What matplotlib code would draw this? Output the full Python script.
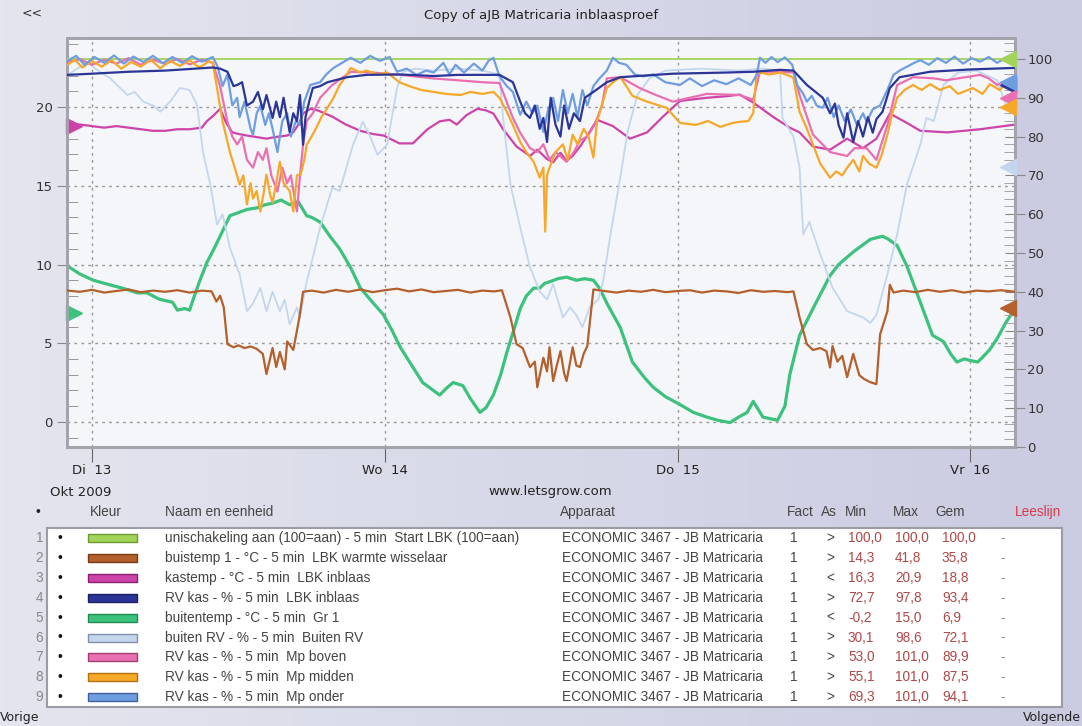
import numpy as np
import matplotlib.pyplot as plt
from matplotlib.patches import Rectangle
from matplotlib.colors import LinearSegmentedColormap
from matplotlib.transforms import blended_transform_factory

W, H = 1082, 726

# x axis: hours after Di 13 okt 2009 00:00
day_ticks = [0, 24, 48, 72]
day_labels = ["Di  13", "Wo  14", "Do  15", "Vr  16"]

# 1 unischakeling (right axis)
t_start = [-2.1, 75.7]
v_start = [100.0, 100.0]

# 2 buistemp 1 (right axis)
t_buis = [-2.0, -1.0, 0.0, 1.0, 2.0, 3.0, 4.0, 5.0, 6.0, 7.0, 8.0, 9.0, 9.8, 10.2, 10.5, 10.8,
          11.1, 11.6, 12.0, 12.5, 13.0, 13.5, 14.0, 14.3, 14.8, 15.1, 15.4, 15.8, 16.0, 16.5,
          17.0, 17.3, 18, 19, 20, 21, 22, 23, 24, 25, 26, 27, 28, 29, 30, 31, 32, 33, 33.6,
          34.3, 34.8, 35.3, 35.9, 36.3, 36.5, 37.0, 37.3, 37.5, 37.8, 38.1, 38.4, 38.7, 38.9,
          39.2, 39.4, 39.7, 40.0, 40.3, 40.6, 41.1, 42, 43, 44, 45, 46, 47, 48, 49, 50, 51, 52,
          53, 54, 55, 56, 57, 57.5, 58.0, 58.6, 59.1, 59.7, 60.2, 60.5, 60.7, 61.1, 61.5, 61.9,
          62.4, 62.9, 63.3, 63.8, 64.3, 64.6, 65.2, 65.4, 65.7, 66.5, 67.5, 68.5, 69.5, 70.5,
          71.5, 72.5, 73.5, 74.5, 75.7]
v_buis = [40.3, 40.0, 40.5, 39.8, 40.2, 40.6, 39.9, 40.3, 40.0, 40.4, 39.8, 40.3, 40.1, 37.5, 39.0,
          36.0, 26.5, 25.7, 26.2, 25.5, 25.9, 25.3, 24.0, 18.8, 25.5, 20.6, 24.5, 20.0, 27.2, 25.0,
          33.4, 40.0, 40.3, 39.8, 40.5, 40.0, 40.6, 39.9, 40.4, 40.8, 40.1, 40.6, 39.9, 40.2, 40.5,
          39.8, 40.3, 40.1, 40.4, 33.4, 26.5, 25.5, 20.6, 22.0, 15.4, 23.0, 19.5, 25.7, 17.0, 21.0,
          24.7, 19.0, 17.0, 22.0, 25.7, 21.0, 20.6, 24.0, 26.0, 40.6, 40.2, 39.8, 40.3, 40.0, 40.5,
          39.9, 40.2, 40.4, 39.8, 40.3, 40.1, 39.7, 40.4, 40.0, 40.2, 39.9, 40.1, 33.4, 26.5, 25.0,
          25.5, 24.7, 20.5, 26.0, 22.0, 23.5, 18.0, 24.0, 18.5, 17.5, 16.7, 16.2, 29.0, 35.0, 41.8,
          39.8, 40.3, 39.9, 40.5, 40.0, 40.4, 39.8, 40.3, 40.1, 40.4, 40.0]

# 3 kastemp (left axis)
t_kas = [-2.0, -1.0, 0.0, 1.0, 2.0, 3.0, 4.0, 5.0, 6.0, 7.0, 8.0, 9.0, 9.4, 10.0, 10.5, 11.0,
         11.5, 12.0, 12.7, 13.5, 14.3, 15.0, 16.0, 16.5, 17.0, 17.3, 17.9, 18.5, 19.7, 20.8,
         22.0, 23.0, 23.9, 25.2, 26.3, 27.5, 28.5, 29.3, 29.9, 30.7, 31.6, 32.3, 32.9, 33.7,
         34.8, 35.9, 36.5, 37.3, 37.8, 38.4, 38.9, 39.4, 40.0, 40.6, 41.4, 42.7, 44.1, 45.5,
         46.8, 48.2, 50.4, 52.0, 53.1, 54.2, 55.8, 56.4, 57.2, 58.0, 59.1, 60.5, 61.9, 63.2,
         64.3, 65.4, 66.8, 67.9, 70.1, 72.8, 75.7]
v_kas = [18.8, 18.9, 18.8, 18.7, 18.8, 18.7, 18.6, 18.5, 18.5, 18.6, 18.6, 18.7, 19.1, 19.5, 19.9,
         19.0, 18.4, 18.3, 18.2, 18.1, 18.0, 18.1, 18.2, 18.4, 19.0, 19.6, 19.9, 19.8, 19.4, 18.9,
         18.5, 18.3, 18.2, 17.7, 17.7, 18.6, 19.1, 19.2, 18.9, 19.5, 19.9, 19.8, 19.6, 18.6, 17.5,
         16.9, 17.3, 16.7, 16.5, 17.1, 16.6, 16.9, 17.5, 18.2, 19.2, 18.8, 18.0, 18.4, 19.4, 20.4,
         20.6, 20.7, 20.8, 20.3, 19.4, 19.1, 18.7, 18.4, 17.5, 17.3, 18.0, 17.4, 18.0, 19.6, 19.0,
         18.5, 18.4, 18.6, 18.9]

# 4 RV kas LBK inblaas (right axis)
t_rvlbk = [-2.0, 0.0, 3.0, 6.0, 9.9, 10.5, 11.1, 11.6, 11.9, 12.3, 12.7, 13.2, 13.6, 14.0, 14.3,
           14.8, 15.1, 15.4, 15.7, 16.2, 16.5, 16.8, 17.05, 17.3, 17.5, 17.8, 18.1, 18.7, 19.3,
           20.9, 22.5, 25.3, 28.0, 30.0, 33.4, 34.5, 35.1, 35.5, 35.9, 36.3, 36.7, 37.0, 37.3,
           37.6, 38.0, 38.4, 38.7, 39.1, 39.5, 40.0, 40.4, 41.1, 42.2, 43.3, 47.6, 52.0, 54.2,
           56.4, 57.5, 58.6, 59.9, 60.5, 60.9, 61.2, 61.6, 61.9, 62.4, 62.8, 63.2, 63.6, 64.0,
           64.3, 64.8, 65.4, 66.2, 68.7, 72.0, 75.7]
v_rvlbk = [95.9, 96.2, 96.7, 97.0, 97.8, 97.5, 96.7, 93.0, 93.3, 94.0, 88.0, 89.0, 91.5, 87.0, 90.7,
           84.8, 89.0, 85.0, 90.0, 81.2, 86.0, 84.0, 90.7, 77.9, 85.0, 89.0, 92.5, 93.0, 94.0, 95.3,
           95.9, 96.0, 95.6, 95.9, 95.9, 94.0, 89.0, 86.0, 84.8, 88.0, 82.0, 84.8, 78.6, 90.0, 83.0,
           80.0, 88.0, 82.0, 86.0, 84.0, 90.0, 91.5, 94.0, 95.3, 96.2, 96.5, 96.7, 97.2, 97.0, 93.3,
           90.0, 86.0, 88.5, 83.0, 79.7, 86.0, 78.6, 84.0, 80.0, 85.0, 81.0, 84.5, 86.4, 92.5, 95.3,
           96.7, 97.3, 97.7]

# 5 buitentemp (left axis)
t_buiten = [-2.0, -1.0, 0.1, 1.5, 2.5, 3.7, 4.5, 5.5, 6.6, 7.0, 7.6, 8.0, 8.3, 8.8, 9.4, 10.0,
            10.5, 11.3, 12.0, 12.7, 13.5, 14.2, 14.8, 15.5, 16.2, 16.9, 17.6, 18.0, 18.7, 19.5,
            20.3, 21.2, 22.0, 23.0, 23.9, 24.6, 25.3, 26.2, 27.1, 27.8, 28.5, 29.0, 29.6, 30.4,
            31.0, 31.8, 32.3, 32.9, 33.5, 34.0, 34.6, 35.1, 35.6, 36.2, 36.7, 37.1, 37.5, 38.2,
            38.9, 39.7, 40.4, 41.1, 41.6, 42.3, 43.3, 44.3, 45.3, 46.0, 47.0, 48.2, 49.3, 50.4,
            51.3, 52.3, 53.0, 53.7, 54.2, 54.6, 55.0, 55.6, 56.2, 56.8, 57.2, 58.0, 59.1, 60.5,
            61.2, 62.4, 63.8, 64.8, 65.3, 66.0, 66.8, 67.9, 68.9, 69.8, 70.4, 70.9, 71.5, 72.0,
            72.6, 73.0, 73.6, 74.2, 74.9, 75.5, 75.7]
v_buiten = [9.9, 9.4, 9.0, 8.7, 8.5, 8.2, 8.2, 7.8, 7.6, 7.1, 7.2, 7.1, 7.8, 8.9, 10.1, 11.0,
            11.8, 13.1, 13.3, 13.5, 13.6, 13.8, 13.9, 14.1, 13.8, 14.0, 13.1, 13.0, 12.7, 11.8,
            11.0, 9.8, 8.5, 7.6, 6.8, 5.8, 4.7, 3.6, 2.5, 2.1, 1.7, 2.1, 2.5, 2.3, 1.5, 0.6, 0.9,
            1.7, 3.0, 4.4, 5.9, 7.2, 8.0, 8.5, 8.5, 8.8, 8.9, 9.1, 9.2, 9.0, 9.1, 9.0, 8.5, 7.4,
            6.0, 3.8, 2.8, 2.2, 1.6, 1.1, 0.6, 0.3, 0.1, -0.05, 0.3, 0.6, 1.3, 0.8, 0.3, 0.2, 0.1,
            1.0, 3.0, 5.5, 7.2, 9.3, 10.0, 10.8, 11.6, 11.8, 11.6, 11.2, 9.9, 7.6, 5.5, 5.1, 4.3,
            3.8, 4.0, 3.9, 3.8, 4.1, 4.6, 5.3, 6.3, 7.0, 7.1]

# 6 buiten RV (right axis)
t_buitenrv = [-2.0, -1.2, -0.4, 0.5, 1.5, 2.9, 3.5, 4.2, 5.0, 5.6, 6.4, 7.2, 8.0, 8.6, 9.1, 9.7,
              10.25, 10.7, 11.3, 12.1, 12.7, 13.2, 13.8, 14.3, 14.8, 15.4, 15.8, 16.2, 16.8,
              17.05, 17.6, 17.9, 18.7, 19.7, 20.3, 21.4, 22.2, 22.8, 23.4, 24.2, 25.0, 25.5,
              26.5, 28.0, 30.0, 32.0, 33.4, 33.7, 34.3, 35.1, 35.9, 36.7, 37.3, 37.8, 38.6, 39.2,
              39.7, 40.2, 40.8, 41.5, 41.9, 42.5, 43.3, 43.9, 44.7, 45.7, 47.0, 50.0, 53.0, 55.0,
              56.4, 56.6, 57.5, 58.0, 58.3, 58.8, 59.7, 60.7, 61.9, 63.2, 63.8, 64.3, 65.2, 66.0,
              66.8, 67.9, 68.4, 69.0, 69.8, 71.0, 72.5, 74.2, 75.0, 75.7]
v_buitenrv = [95.9, 97.5, 99.2, 97.0, 95.0, 90.7, 91.5, 89.0, 88.0, 86.4, 89.0, 92.5, 92.0, 88.2,
              76.0, 67.6, 57.3, 60.0, 51.4, 44.5, 35.0, 37.0, 41.0, 35.0, 40.0, 35.0, 38.0, 31.6,
              36.0, 33.4, 42.7, 46.3, 56.6, 66.8, 66.0, 77.9, 83.8, 80.0, 75.3, 78.0, 92.5, 96.7,
              97.5, 97.0, 97.5, 97.0, 96.0, 84.8, 67.6, 56.6, 46.3, 40.1, 38.0, 42.0, 33.4, 36.0,
              34.0, 30.9, 36.0, 38.0, 42.7, 54.8, 69.4, 81.2, 90.7, 95.0, 97.0, 97.5, 97.0, 97.5,
              97.0, 84.8, 80.0, 72.0, 54.8, 58.0, 49.6, 41.1, 35.0, 33.4, 32.0, 34.0, 44.5, 54.8,
              67.6, 77.9, 84.8, 84.0, 93.3, 96.5, 97.0, 94.5, 87.4, 89.0]

# 7 RV kas Mp boven (right axis)
t_boven = [-2.0, -1.0, 0.0, 1.0, 2.0, 3.0, 4.0, 5.0, 6.0, 7.0, 8.0, 9.0, 9.9, 10.5, 11.1, 11.5,
           11.9, 12.3, 12.7, 13.2, 13.6, 14.0, 14.3, 14.7, 15.2, 15.6, 16.0, 16.3, 16.8, 17.05,
           17.3, 17.6, 18.1, 18.7, 19.7, 21.2, 23.0, 25.3, 27.9, 30.0, 32.0, 33.4, 34.5, 35.1,
           35.9, 36.5, 37.0, 37.5, 38.0, 38.9, 39.5, 40.0, 40.6, 41.2, 41.8, 42.2, 43.3, 44.9,
           46.0, 47.6, 50.4, 53.1, 54.2, 54.75, 56.4, 57.5, 58.0, 59.1, 60.5, 61.9, 62.5, 63.5,
           64.3, 65.2, 66.0, 67.3, 69.0, 70.0, 72.8, 73.5, 74.2, 75.0, 75.7]
v_boven = [99.0, 100.0, 98.5, 99.8, 98.8, 100.2, 98.5, 99.8, 98.7, 100.0, 98.6, 99.8, 99.0, 93.0,
           83.8, 80.0, 78.0, 80.0, 74.0, 72.0, 76.0, 74.0, 77.0, 70.0, 65.8, 72.0, 68.0, 70.0,
           60.7, 70.0, 77.9, 84.0, 86.0, 90.0, 93.3, 96.7, 96.5, 95.9, 95.0, 94.5, 94.0, 93.8,
           84.8, 81.0, 77.0, 76.0, 78.0, 74.0, 76.0, 73.5, 76.0, 79.0, 80.0, 83.0, 88.0, 95.0,
           95.3, 92.5, 91.0, 89.0, 91.0, 90.7, 89.5, 96.7, 96.7, 96.5, 90.7, 80.5, 76.0, 75.0,
           77.0, 77.0, 74.0, 83.0, 93.3, 95.3, 95.0, 94.5, 95.9, 95.0, 93.3, 94.5, 95.5]

# 8 RV kas Mp midden (right axis)
t_midden = [-2.0, -1.4, -0.8, 0.0, 0.8, 1.6, 2.4, 3.2, 4.0, 4.8, 5.6, 6.4, 7.2, 8.0, 8.8, 9.6,
            9.9, 10.25, 10.7, 11.3, 11.7, 12.1, 12.4, 12.7, 13.0, 13.2, 13.5, 13.8, 14.1, 14.3,
            14.6, 14.8, 15.1, 15.4, 15.7, 16.2, 16.5, 16.8, 17.1, 17.4, 17.6, 18.0, 18.4, 18.8,
            19.3, 19.8, 20.3, 20.8, 21.2, 22.0, 22.5, 23.4, 24.2, 25.2, 26.0, 27.0, 28.0, 29.0,
            30.2, 31.0, 32.0, 32.9, 33.4, 34.0, 34.5, 35.1, 35.6, 36.2, 36.7, 37.0, 37.15, 37.3,
            37.5, 38.0, 38.6, 39.0, 39.4, 39.8, 40.3, 40.7, 41.1, 41.4, 41.6, 42.2, 42.7, 43.3,
            43.8, 44.3, 45.5, 46.5, 47.1, 48.2, 49.5, 50.5, 51.5, 52.5, 53.1, 53.8, 54.2, 54.5,
            55.5, 56.4, 57.3, 57.5, 58.0, 58.6, 59.1, 59.7, 60.5, 61.0, 61.5, 61.9, 62.4, 62.9,
            63.2, 63.7, 64.3, 64.7, 65.2, 65.6, 66.0, 66.6, 67.3, 68.0, 68.7, 69.5, 70.3, 71.0,
            71.4, 72.2, 73.0, 73.6, 74.4, 75.0, 75.7]
v_midden = [98.5, 99.8, 97.8, 99.5, 98.0, 99.7, 97.5, 99.2, 98.0, 99.8, 97.6, 99.5, 98.2, 99.6,
            97.8, 99.4, 99.0, 92.5, 84.0, 76.0, 72.0, 67.6, 70.0, 62.5, 68.0, 64.0, 66.0, 60.7,
            66.0, 70.2, 65.0, 63.0, 68.0, 73.5, 68.0, 66.0, 60.7, 70.0, 70.2, 74.0, 77.9, 80.0,
            82.3, 85.0, 87.4, 90.0, 93.3, 95.5, 97.7, 96.5, 97.0, 96.0, 96.5, 94.0, 93.0, 92.0,
            91.5, 91.0, 90.7, 91.5, 91.0, 91.5, 90.0, 86.4, 83.0, 78.6, 76.0, 73.5, 69.4, 72.0,
            55.5, 70.0, 72.0, 76.0, 78.0, 74.0, 80.5, 78.0, 82.0, 80.0, 74.6, 84.0, 86.0, 92.5,
            94.0, 95.3, 93.0, 90.5, 89.0, 88.0, 87.4, 83.5, 83.0, 84.0, 82.5, 83.5, 83.8, 84.0,
            86.0, 96.7, 96.0, 96.5, 95.5, 95.0, 86.4, 82.0, 77.9, 73.0, 69.4, 71.0, 70.0, 72.0,
            74.0, 71.0, 75.0, 73.0, 72.0, 75.0, 80.5, 86.0, 90.0, 92.0, 93.3, 92.0, 93.5, 92.0,
            93.0, 91.0, 91.5, 92.5, 91.0, 93.5, 92.0, 94.0, 95.0]

# 9 RV kas Mp onder (right axis)
t_onder = [-2.0, -1.3, -0.6, 0.2, 1.0, 1.8, 2.6, 3.4, 4.2, 5.0, 5.8, 6.6, 7.4, 8.2, 9.0, 9.9,
           10.3, 10.7, 11.1, 11.5, 11.9, 12.1, 12.5, 13.0, 13.2, 13.5, 13.8, 14.2, 14.5, 14.8,
           15.2, 15.6, 16.0, 16.3, 16.7, 17.05, 17.4, 17.9, 18.7, 19.2, 19.8, 20.5, 21.2, 22.0,
           22.8, 23.6, 24.4, 25.0, 25.8, 26.6, 27.4, 28.0, 28.8, 29.3, 29.8, 30.5, 31.3, 32.0,
           32.5, 32.9, 33.4, 34.0, 34.5, 35.1, 35.6, 36.1, 36.5, 37.0, 37.4, 37.8, 38.2, 38.6,
           39.0, 39.4, 39.8, 40.2, 40.6, 41.1, 41.6, 42.2, 42.7, 43.2, 43.8, 44.5, 45.2, 46.0,
           47.0, 48.2, 49.0, 50.0, 51.0, 52.0, 53.0, 54.0, 54.5, 54.75, 55.2, 55.7, 56.2, 56.8,
           57.4, 57.8, 58.3, 58.6, 59.0, 59.4, 59.9, 60.3, 60.8, 61.2, 61.7, 62.2, 62.7, 63.2,
           63.5, 64.0, 64.6, 65.2, 65.7, 66.2, 66.8, 67.4, 67.9, 68.6, 69.3, 70.0, 70.7, 71.4,
           72.1, 72.8, 73.5, 74.2, 74.9, 75.7]
v_onder = [99.5, 100.8, 98.5, 100.5, 99.0, 100.9, 98.8, 100.6, 99.2, 100.8, 98.9, 100.5, 99.0,
           100.7, 99.3, 100.5, 98.0, 93.0, 96.0, 88.0, 90.0, 85.0, 89.0, 82.0, 80.5, 86.0, 88.0,
           83.0, 86.0, 82.0, 76.0, 84.0, 86.0, 80.0, 84.0, 83.0, 89.0, 93.3, 94.0, 96.0, 97.7,
           99.0, 100.3, 99.0, 100.8, 99.5, 100.5, 96.7, 97.5, 95.9, 97.0, 96.5, 99.0, 96.0, 98.5,
           96.5, 98.8, 97.0, 99.5, 100.3, 95.5, 93.0, 91.5, 85.6, 89.0, 86.0, 88.0, 81.2, 87.0,
           90.0, 84.0, 92.0, 86.0, 91.0, 85.0, 92.0, 88.0, 93.0, 95.0, 97.0, 100.3, 99.0, 98.5,
           96.0, 95.5, 96.0, 94.0, 93.3, 95.0, 93.0, 94.5, 93.5, 95.0, 93.3, 96.0, 100.3, 99.0,
           100.5, 99.2, 100.4, 98.5, 93.3, 91.0, 89.0, 90.5, 88.0, 87.4, 90.0, 85.0, 88.0, 84.0,
           87.0, 83.0, 86.0, 83.8, 87.0, 88.0, 92.0, 95.9, 97.0, 98.0, 99.0, 99.7, 98.5, 100.2,
           99.0, 100.6, 98.8, 100.2, 99.3, 100.5, 99.0, 100.3, 99.5]

# legend table
names = ["unischakeling aan (100=aan) - 5 min  Start LBK (100=aan)",
         "buistemp 1 - °C - 5 min  LBK warmte wisselaar",
         "kastemp - °C - 5 min  LBK inblaas",
         "RV kas - % - 5 min  LBK inblaas",
         "buitentemp - °C - 5 min  Gr 1",
         "buiten RV - % - 5 min  Buiten RV",
         "RV kas - % - 5 min  Mp boven",
         "RV kas - % - 5 min  Mp midden",
         "RV kas - % - 5 min  Mp onder"]
apparaat = ["ECONOMIC 3467 - JB Matricaria"] * 9
fact = ["1"] * 9
as_side = [">", ">", "<", ">", "<", ">", ">", ">", ">"]
mins = ["100,0", "14,3", "16,3", "72,7", "-0,2", "30,1", "53,0", "55,1", "69,3"]
maxs = ["100,0", "41,8", "20,9", "97,8", "15,0", "98,6", "101,0", "101,0", "101,0"]
gems = ["100,0", "35,8", "18,8", "93,4", "6,9", "72,1", "89,9", "87,5", "94,1"]
gem_vals = [100.0, 35.8, 18.8, 93.4, 6.9, 72.1, 89.9, 87.5, 94.1]

colors = ["#a3d45a", "#b4602c", "#cc44aa", "#2a3596", "#3cc27c",
          "#c3d6ee", "#ea6fb0", "#f6a828", "#6e9ee0"]
edge_colors = ["#6a9a30", "#7a3a14", "#8a2070", "#1a2060", "#1f8a50",
               "#8090a8", "#a04070", "#b07010", "#40609a"]
series = [(t_start, v_start), (t_buis, v_buis), (t_kas, v_kas), (t_rvlbk, v_rvlbk),
          (t_buiten, v_buiten), (t_buitenrv, v_buitenrv), (t_boven, v_boven),
          (t_midden, v_midden), (t_onder, v_onder)]
widths = [1.3, 1.6, 1.6, 1.6, 2.3, 1.3, 1.6, 1.6, 1.6]
draw_order = [5, 0, 1, 2, 4, 6, 7, 8, 3]

fig = plt.figure(figsize=(W / 100, H / 100), dpi=100)

# lavender window background
bg = fig.add_axes([0, 0, 1, 1], zorder=-10)
grad = np.linspace(0, 1, 256).reshape(1, -1)
bg.imshow(grad, aspect='auto', extent=[0, 1, 0, 1],
          cmap=LinearSegmentedColormap.from_list('bg', ['#e4e5ee', '#cacbe1']))
bg.axis('off')

ax = fig.add_axes([67 / W, 1 - 447 / H, (1015 - 67) / W, (447 - 38) / H])
ax.set_facecolor('#f5f6f9')
ax2 = ax.twinx()
xmin, xmax = -2.05, 75.66
ax.set_xlim(xmin, xmax)
ax.set_ylim(-1.6, 24.4)
ax2.set_ylim(0.25, 105.4)

for i in draw_order:
    t, v = series[i]
    target = ax if as_side[i] == "<" else ax2
    target.plot(t, v, color=colors[i], lw=widths[i], zorder=2 + draw_order.index(i))

# mean markers on the axis edges
for i in range(9):
    if as_side[i] == "<":
        tr = blended_transform_factory(ax.transAxes, ax.transData)
        ax.plot(0.007, gem_vals[i], marker='>', ms=11, color=colors[i], transform=tr,
                clip_on=False, zorder=20)
    else:
        tr = blended_transform_factory(ax2.transAxes, ax2.transData)
        ax2.plot(0.993, gem_vals[i], marker='<', ms=11, color=colors[i], transform=tr,
                 clip_on=False, zorder=20)

# grid and ticks
ax.set_yticks([0, 5, 10, 15, 20])
ax.set_yticks(np.arange(-1, 25, 1), minor=True)
ax.set_xticks(day_ticks)
ax.set_xticklabels(day_labels)
ax.grid(True, which='major', linestyle=(0, (2, 3)), color='#9a9a9a', lw=1)
ax.tick_params(axis='y', which='major', direction='out', length=7, labelsize=9.5,
               labelcolor='#333333', color='#888888')
ax.tick_params(axis='y', which='minor', direction='in', length=8, color='#888888')
ax.tick_params(axis='x', which='major', direction='out', length=11, labelsize=9.5,
               labelcolor='#222222', color='#666666', pad=1)
ax2.set_yticks(np.arange(0, 101, 10))
ax2.set_yticks(np.arange(2, 105, 2), minor=True)
ax2.tick_params(axis='y', which='major', direction='inout', length=14, labelsize=9.5,
                labelcolor='#333333', color='#888888', pad=2)
ax2.tick_params(axis='y', which='minor', direction='in', length=8, color='#999999')
for a in (ax, ax2):
    for s in a.spines.values():
        s.set_color('#a2a3ab')
        s.set_linewidth(2)


def ftext(x, y, s, **kw):
    kw.setdefault('va', 'center')
    kw.setdefault('color', '#444444')
    fig.text(x / W, 1 - y / H, s, **kw)


ftext(541, 15, "Copy of aJB Matricaria inblaasproef", ha='center', fontsize=9.5, color='#222222')
ftext(22, 13, "<<", fontsize=9, color='#333333')
ftext(50, 492, "Okt 2009", fontsize=9.5, color='#222222')
ftext(550, 492, "www.letsgrow.com", ha='center', fontsize=9.5, color='#222222')
ftext(0, 717, "Vorige", fontsize=9, color='#222222')
ftext(1081, 717, "Volgende", ha='right', fontsize=9, color='#222222')

tfont = dict(family='Liberation Sans', fontsize=9.8)
head_y = 512
ftext(35, head_y, "•", color='#222222', **tfont)
ftext(90, head_y, "Kleur", **tfont)
ftext(165, head_y, "Naam en eenheid", **tfont)
ftext(560, head_y, "Apparaat", **tfont)
ftext(787, head_y, "Fact", **tfont)
ftext(821, head_y, "As", **tfont)
ftext(845, head_y, "Min", **tfont)
ftext(893, head_y, "Max", **tfont)
ftext(935, head_y, "Gem", **tfont)
ftext(1015, head_y, "Leeslijn", color='#d83a4a', **tfont)

fig.add_artist(Rectangle((47 / W, 1 - 707 / H), (1062 - 47) / W, (707 - 528) / H,
                         transform=fig.transFigure, facecolor='white',
                         edgecolor='#9c9ca4', lw=1.5, zorder=0))
for i in range(9):
    y = 538 + 19.9 * i
    ftext(43, y, str(i + 1), ha='right', color='#888888', **tfont)
    ftext(60, y, "•", ha='center', color='#111111', **tfont)
    fig.add_artist(Rectangle((88 / W, 1 - (y + 4) / H), 49 / W, 8 / H,
                             transform=fig.transFigure, facecolor=colors[i],
                             edgecolor=edge_colors[i], lw=1, zorder=2))
    ftext(165, y, names[i], **tfont)
    ftext(562, y, apparaat[i], **tfont)
    ftext(790, y, fact[i], **tfont)
    ftext(826, y, as_side[i], **tfont)
    ftext(848, y, mins[i], color='#b04848', **tfont)
    ftext(895, y, maxs[i], color='#b04848', **tfont)
    ftext(942, y, gems[i], color='#b04848', **tfont)
    ftext(1000, y, "-", color='#888888', **tfont)

fig.savefig('out.png', dpi=100)
